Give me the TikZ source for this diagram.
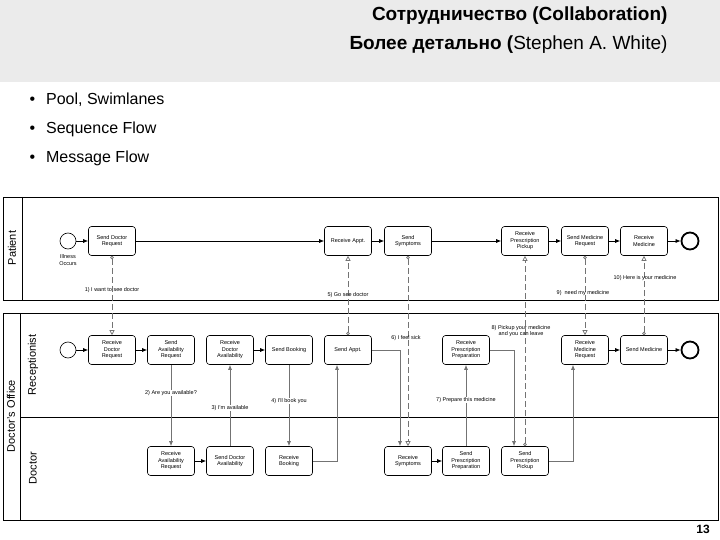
\documentclass[tikz,border=0pt]{standalone}
\usepackage{fontspec}
\setmainfont{Liberation Sans}
\usetikzlibrary{arrows.meta}
\begin{document}
\begin{tikzpicture}[x=1pt,y=-1pt,
 task/.style={draw,rounded corners=3pt,minimum width=47pt,minimum height=29pt,align=center,font=\fontsize{5.5}{6.5}\selectfont,inner sep=1pt,line width=0.6pt},
 seq/.style={-{Latex[length=5pt,width=4pt]},line width=0.7pt},
 xseq/.style={-{Latex[length=5pt,width=4pt]},line width=0.7pt,draw=black!55},
 msg/.style={draw=black!55,line width=0.7pt,dash pattern=on 6pt off 3pt,{Circle[open,length=3.5pt,fill=white]}-{Triangle[open,length=5pt,width=5pt,fill=white]}},
 lbl/.style={font=\fontsize{5.5}{6.5}\selectfont,fill=white,inner sep=0.5pt},
 startev/.style={draw,circle,minimum size=16pt,inner sep=0pt,line width=0.6pt},
 endev/.style={draw,circle,minimum size=17pt,inner sep=0pt,line width=1.8pt}]
\useasboundingbox (0,0) rectangle (720,540);
\fill[black!8] (0,0) rectangle (720,82);
\node[anchor=east,font=\bfseries\fontsize{19}{22}\selectfont] (t1) at (671,16) {Сотрудничество (Collaboration)};
\node[anchor=east,font=\fontsize{19}{22}\selectfont] (t2) at (671,45) {\textbf{Более детально (}Stephen A. White)};
\foreach \yy/\tt [count=\i] in {100/Pool{,} Swimlanes,129/Sequence Flow,158/Message Flow}{
 \node[anchor=west,font=\fontsize{16}{18}\selectfont] (b\i) at (26,\yy) {•\hspace{11pt}\tt};}
% pools
\draw[line width=0.7pt] (3,197) rectangle (718,300);
\draw[line width=0.7pt] (22,197) -- (22,300);
\node[rotate=90,font=\fontsize{11}{13}\selectfont] (pl) at (12,248) {Patient};
\draw[line width=0.7pt] (3,313) rectangle (718,520);
\draw[line width=0.7pt] (20,313) -- (20,520);
\draw[line width=0.7pt] (20,417) -- (718,417);
\node[rotate=90,font=\fontsize{11}{13}\selectfont] (po) at (11,416) {Doctor's Office};
\node[rotate=90,font=\fontsize{11}{13}\selectfont] (lr) at (33,365) {Receptionist};
\node[rotate=90,font=\fontsize{11}{13}\selectfont] (ld) at (33,468) {Doctor};
% patient lane
\node[startev] (ps) at (68,241) {};
\node[font=\fontsize{5.5}{6.5}\selectfont,align=center] (psl) at (68,260) {Illness\\Occurs};
\node[task] (sdr) at (112,241) {Send Doctor\\Request};
\node[task] (ra) at (348,241) {Receive Appt.};
\node[task] (ss) at (408,241) {Send\\Symptoms};
\node[task] (rpp) at (525,241) {Receive\\Prescription\\Pickup};
\node[task] (smr) at (585,241) {Send Medicine\\Request};
\node[task] (rm) at (644,241) {Receive\\Medicine};
\node[endev] (pe) at (690,241) {};
\draw[seq] (ps) -- (sdr); \draw[seq] (sdr) -- (ra); \draw[seq] (ra) -- (ss);
\draw[seq] (ss) -- (rpp); \draw[seq] (rpp) -- (smr); \draw[seq] (smr) -- (rm); \draw[seq] (rm) -- (pe);
% receptionist lane
\node[startev] (rs) at (68,350) {};
\node[task] (rdr) at (112,350) {Receive\\Doctor\\Request};
\node[task] (sar) at (171,350) {Send\\Availability\\Request};
\node[task] (rda) at (230,350) {Receive\\Doctor\\Availability};
\node[task] (sb) at (289,350) {Send Booking};
\node[task] (sa) at (348,350) {Send Appt.};
\node[task] (rprp) at (466,350) {Receive\\Prescription\\Preparation};
\node[task] (rmr) at (585,350) {Receive\\Medicine\\Request};
\node[task] (sm) at (644,350) {Send Medicine};
\node[endev] (re) at (690,350) {};
\draw[seq] (rs) -- (rdr); \draw[seq] (rdr) -- (sar); \draw[seq] (rda) -- (sb);
\draw[seq] (rmr) -- (sm); \draw[seq] (sm) -- (re);
% doctor lane
\node[task] (rar) at (171,461) {Receive\\Availability\\Request};
\node[task] (sda) at (230,461) {Send Doctor\\Availability};
\node[task] (rb) at (289,461) {Receive\\Booking};
\node[task] (rsy) at (408,461) {Receive\\Symptoms};
\node[task] (spp) at (466,461) {Send\\Prescription\\Preparation};
\node[task] (spk) at (525,461) {Send\\Prescription\\Pickup};
\draw[seq] (rar) -- (sda); \draw[seq] (rsy) -- (spp);
% cross-lane flows
\draw[xseq] (sar.south) -- (rar.north);
\draw[xseq] (sda.north) -- (rda.south);
\draw[xseq] (sb.south) -- (rb.north);
\draw[xseq] (rb.east) -| ([xshift=-11pt]sa.south);
\draw[xseq] (sa.east) -| ([xshift=-8pt]rsy.north);
\draw[xseq] (spp.north) -- (rprp.south);
\draw[xseq] (rprp.east) -| ([xshift=-11pt]spk.north);
\draw[xseq] (spk.east) -| ([xshift=-12pt]rmr.south);
\node[lbl] (l2) at (171,393) {2) Are you available?};
\node[lbl] (l3) at (230,408) {3) I'm available};
\node[lbl] (l4) at (289,401) {4) I'll book you};
\node[lbl] (l7) at (466,400) {7) Prepare this medicine};
% message flows
\draw[msg] (sdr.south) -- (rdr.north);
\draw[msg] (sa.north) -- (ra.south);
\draw[msg] (ss.south) -- (rsy.north);
\draw[msg] (spk.north) -- (rpp.south);
\draw[msg] (smr.south) -- (rmr.north);
\draw[msg] (sm.north) -- (rm.south);
\node[lbl,fill=none] (l1) at (112,290) {1) I want to see doctor};
\node[lbl,fill=none] (l5) at (348,295) {5) Go see doctor};
\node[lbl,fill=none] (l6) at (406,338) {6) I feel sick};
\node[lbl,fill=none,align=center] (l8) at (521,331) {8) Pickup your medicine\\and you can leave};
\node[lbl,fill=none] (l9) at (583,293) {9)\ \ need my medicine};
\node[lbl,fill=none] (l10) at (645,278) {10) Here is your medicine};
\node[font=\bfseries\fontsize{12}{14}\selectfont] (pg) at (703,529) {13};
\end{tikzpicture}
\end{document}
